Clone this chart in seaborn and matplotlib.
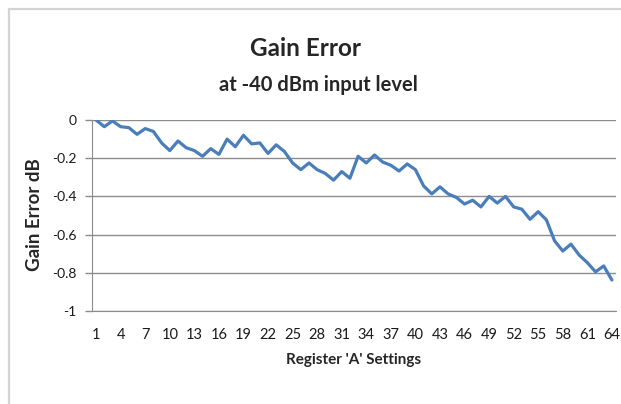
import numpy as np
import pandas as pd
import matplotlib
matplotlib.use("Agg")
import matplotlib.pyplot as plt
import seaborn as sns
from matplotlib.patches import Rectangle

# data
settings = list(range(1, 65))
gain_error = [
    0.000, -0.035, -0.005, -0.035, -0.040, -0.075, -0.045, -0.060,
    -0.120, -0.160, -0.110, -0.145, -0.160, -0.190, -0.150, -0.180,
    -0.100, -0.140, -0.080, -0.125, -0.120, -0.175, -0.130, -0.165,
    -0.225, -0.260, -0.225, -0.260, -0.280, -0.315, -0.270, -0.305,
    -0.190, -0.225, -0.183, -0.220, -0.237, -0.267, -0.230, -0.260,
    -0.345, -0.387, -0.350, -0.387, -0.405, -0.440, -0.420, -0.455,
    -0.400, -0.435, -0.400, -0.455, -0.467, -0.520, -0.480, -0.523,
    -0.633, -0.686, -0.650, -0.707, -0.747, -0.795, -0.764, -0.838,
]
y_ticks = [0, -0.2, -0.4, -0.6, -0.8, -1]
y_tick_labels = ["0", "-0.2", "-0.4", "-0.6", "-0.8", "-1"]
x_ticks = list(range(1, 65, 3))

df = pd.DataFrame({"setting": settings, "error": gain_error})

sns.set_style("white")
plt.rcParams["font.family"] = ["Lato", "DejaVu Sans"]

fig = plt.figure(figsize=(6.21, 4.04), dpi=100)
ax = fig.add_axes([92 / 621, 1 - 311 / 404, (616 - 92) / 621, (311 - 120) / 404])

# outer chart border (cut off at right and bottom like the screenshot)
fig.patches.append(Rectangle((9 / 621, -0.1), 1.2, 1 - 9 / 404 + 0.1,
                             transform=fig.transFigure, fill=False,
                             edgecolor="#d4d4d4", linewidth=1.6, zorder=0))

sns.lineplot(data=df, x="setting", y="error", ax=ax, color="#4a7ebb",
             linewidth=2.3, zorder=3)

ax.set_xlim(0.5, 64.5)
ax.set_ylim(-1, 0)
ax.set_yticks(y_ticks)
ax.set_yticklabels(y_tick_labels)
ax.set_xticks(x_ticks)
ax.set_xticklabels([str(t) for t in x_ticks])
ax.yaxis.grid(True, color="#8c8c8c", linewidth=1)
ax.set_axisbelow(True)

for side in ["top", "right"]:
    ax.spines[side].set_visible(False)
ax.spines["left"].set_color("#8c8c8c")
ax.spines["bottom"].set_color("#8c8c8c")
ax.tick_params(axis="y", length=5, width=1, color="#8c8c8c", labelsize=10,
               labelcolor="#1a1a1a", pad=6, left=True)
ax.tick_params(axis="x", length=0, labelsize=10.5, labelcolor="#1a1a1a", pad=12)

ax.set_xlabel("Register 'A' Settings", fontsize=11, fontweight="bold")
ax.xaxis.label.set_va("center")
ax.xaxis.set_label_coords(0.5, -(360 - 311) / 191)
ax.set_ylabel("Gain Error dB", fontsize=13.5, fontweight="bold")
ax.yaxis.label.set_va("center")
ax.yaxis.set_label_coords((35 - 92) / 524, (311 - 215) / 191)

fig.text(305 / 621, 1 - 48 / 404, "Gain Error", fontsize=17.5, fontweight="bold",
         ha="center", va="center")
fig.text(318 / 621, 1 - 85 / 404, "at -40 dBm input level", fontsize=14.5,
         fontweight="bold", ha="center", va="center")

fig.savefig("out.png", dpi=100)
